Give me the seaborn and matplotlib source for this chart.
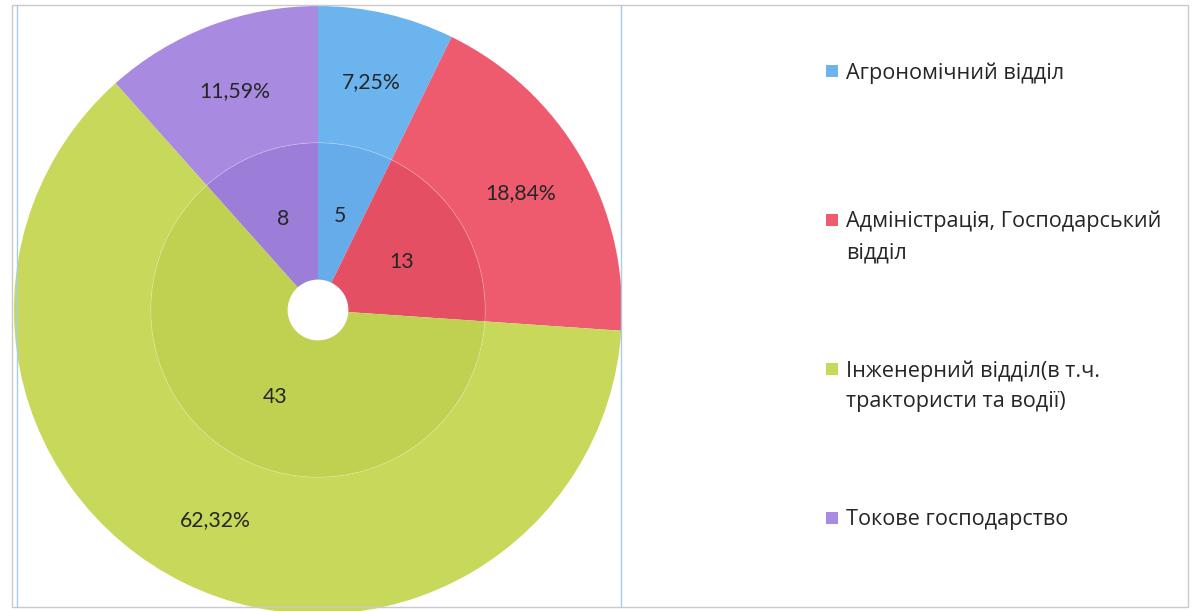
import matplotlib
matplotlib.use("Agg")
import matplotlib.pyplot as plt
import seaborn as sns
from matplotlib.patches import Rectangle, Circle
from matplotlib.lines import Line2D

# data
departments = [
    "Агрономічний відділ",
    "Адміністрація, Господарський\nвідділ",
    "Інженерний відділ(в т.ч.\nтрактористи та водії)",
    "Токове господарство",
]
staff = [5, 13, 43, 8]

outer_colors = ["#6cb4ee", "#ee5a6e", "#c8d85a", "#a88be0"]
inner_colors = ["#66acea", "#e44f64", "#c0d152", "#9c7ed8"]
text_color = "#262626"

sns.set_theme(style="white")
plt.rcParams["font.family"] = ["Open Sans", "DejaVu Sans"]

W, H = 1196, 611
cx, cy, R = 318, 310, 304  # pie centre and radius in pixels

fig = plt.figure(figsize=(W / 100, H / 100), dpi=100)
fig.patch.set_facecolor("white")
ax = fig.add_axes([(cx - R) / W, (H - cy - R) / H, 2 * R / W, 2 * R / H])

total = sum(staff)
label_font = dict(fontsize=15.3, color=text_color, family=["Lato", "DejaVu Sans"])

# outer ring: shares in percent
ax.pie(staff, radius=1.0, startangle=90, counterclock=False,
       colors=outer_colors,
       wedgeprops=dict(width=0.45, edgecolor="none"),
       autopct=lambda p: f"{p:.2f}%".replace(".", ","),
       pctdistance=0.77,
       textprops=label_font)

# inner ring: head count
ax.pie(staff, radius=0.55, startangle=90, counterclock=False,
       colors=inner_colors,
       wedgeprops=dict(width=0.45, edgecolor="none"),
       autopct=lambda p: f"{p * total / 100:.0f}",
       pctdistance=0.58,
       textprops=label_font)

ax.add_patch(Circle((0, 0), 0.55, fill=False, ec="white", lw=0.6, alpha=0.25))
ax.set_xlim(-1, 1)
ax.set_ylim(-1, 1)
ax.axis("off")

# frame and divider
fig.add_artist(Rectangle((12 / W, (H - 607) / H), (1188 - 12) / W, (607 - 5) / H,
                         transform=fig.transFigure, fill=False, ec="#c9c9ce", lw=1))
for x in [17, 621]:
    fig.add_artist(Line2D([x / W, x / W], [(H - 607) / H, (H - 5) / H],
                          transform=fig.transFigure, color="#a9cce8", lw=1))

# legend, drawn by hand so the square sits on the first text line
for i, (name, color) in enumerate(zip(departments, outer_colors)):
    yc = 71 + 149 * i
    fig.add_artist(Rectangle((826 / W, (H - yc - 6) / H), 12 / W, 12 / H,
                             transform=fig.transFigure, color=color, lw=0))
    fig.text(846 / W, (H - yc + 9) / H, name, fontsize=15.6, color=text_color,
             va="top", ha="left", linespacing=1.62)

fig.savefig("out.png", dpi=100, facecolor="white")
